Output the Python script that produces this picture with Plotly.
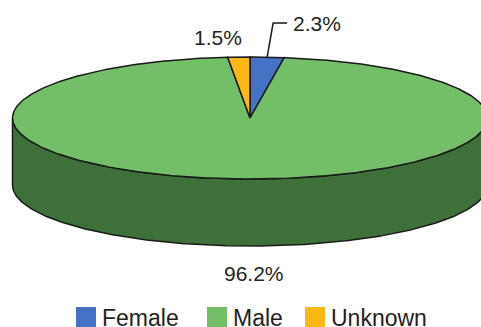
import numpy as np
import plotly.graph_objects as go

# Gender breakdown
categories = ["Female", "Male", "Unknown"]
shares = [2.3, 96.2, 1.5]
labels = ["2.3%", "96.2%", "1.5%"]

top_colors = {"Female": "#4472C4", "Male": "#72BF67", "Unknown": "#FDB813"}
side_colors = {"Female": "#2F5597", "Male": "#3D7139", "Unknown": "#B8860B"}

W, H = 481, 327
cx, cy = 250.0, 118.0      # centre of the top face
rx, ry = 237.5, 61.0       # ellipse radii
depth = 67.0               # thickness of the disc
EDGE = dict(color="#1a1a1a", width=1.5)
FONT = "Liberation Sans, Arial, sans-serif"
TXT = "#231f20"


def rim(phi, dy=0.0):
    """Point on the rim; phi measured clockwise from 12 o'clock."""
    return cx + rx * np.sin(phi), cy - ry * np.cos(phi) + dy


fig = go.Figure()

# slice angles, clockwise from the top
fr = np.array(shares) / sum(shares)
bounds = np.concatenate([[0], np.cumsum(fr)]) * 2 * np.pi

# side walls (only the front half of the disc is visible)
for name, a0, a1 in zip(categories, bounds[:-1], bounds[1:]):
    lo, hi = max(a0, np.pi / 2), min(a1, 3 * np.pi / 2)
    if hi <= lo:
        continue
    t = np.linspace(lo, hi, 200)
    x1, y1 = rim(t)
    x2, y2 = rim(t[::-1], depth)
    fig.add_trace(go.Scatter(
        x=np.concatenate([x1, x2, x1[:1]]), y=np.concatenate([y1, y2, y1[:1]]),
        mode="lines", fill="toself", fillcolor=side_colors[name],
        line=EDGE, hoverinfo="skip", showlegend=False))

# top faces
for name, a0, a1 in zip(categories, bounds[:-1], bounds[1:]):
    t = np.linspace(a0, a1, max(int((a1 - a0) * 120), 4))
    x, y = rim(t)
    fig.add_trace(go.Scatter(
        x=np.concatenate([[cx], x, [cx]]), y=np.concatenate([[cy], y, [cy]]),
        mode="lines", fill="toself", fillcolor=top_colors[name],
        line=EDGE, name=name, hoverinfo="skip", showlegend=False))

annotations = []

# Female label with leader line
mid_f = (bounds[0] + bounds[1]) / 2
lx, ly = rim(mid_f)
fig.add_trace(go.Scatter(x=[lx, lx + 6, lx + 20], y=[ly, 23, 23], mode="lines",
                         line=dict(color="#1a1a1a", width=1.5),
                         hoverinfo="skip", showlegend=False))
annotations.append(dict(x=lx + 24, y=23, text=labels[0], xanchor="left", yanchor="middle"))

# Male label below the disc
annotations.append(dict(x=cx + 4, y=cy + ry + depth + 27, text=labels[1],
                        xanchor="center", yanchor="middle"))

# Unknown label above its slice
mid_u = (bounds[2] + bounds[3]) / 2
ux, uy = rim(mid_u)
annotations.append(dict(x=ux - 21, y=37, text=labels[2], xanchor="center", yanchor="middle"))

for a in annotations:
    a.update(xref="x", yref="y", showarrow=False, font=dict(family=FONT, size=21, color=TXT))

# legend
shapes = []
leg_x = [76, 207, 305]
for name, x0 in zip(categories, leg_x):
    shapes.append(dict(type="rect", xref="x", yref="y", x0=x0, x1=x0 + 20, y0=307, y1=327,
                       fillcolor=top_colors[name], line=dict(width=0), layer="above"))
    annotations.append(dict(x=x0 + 24, y=318, text=name, xref="x", yref="y", showarrow=False,
                            xanchor="left", yanchor="middle",
                            font=dict(family=FONT, size=23, color=TXT)))

fig.update_layout(
    width=W, height=H, margin=dict(l=0, r=0, t=0, b=0),
    paper_bgcolor="white", plot_bgcolor="white",
    xaxis=dict(range=[0, W], visible=False, fixedrange=True),
    yaxis=dict(range=[H, 0], visible=False, fixedrange=True),
    annotations=annotations, shapes=shapes, showlegend=False,
)

fig.write_html("out.html")
